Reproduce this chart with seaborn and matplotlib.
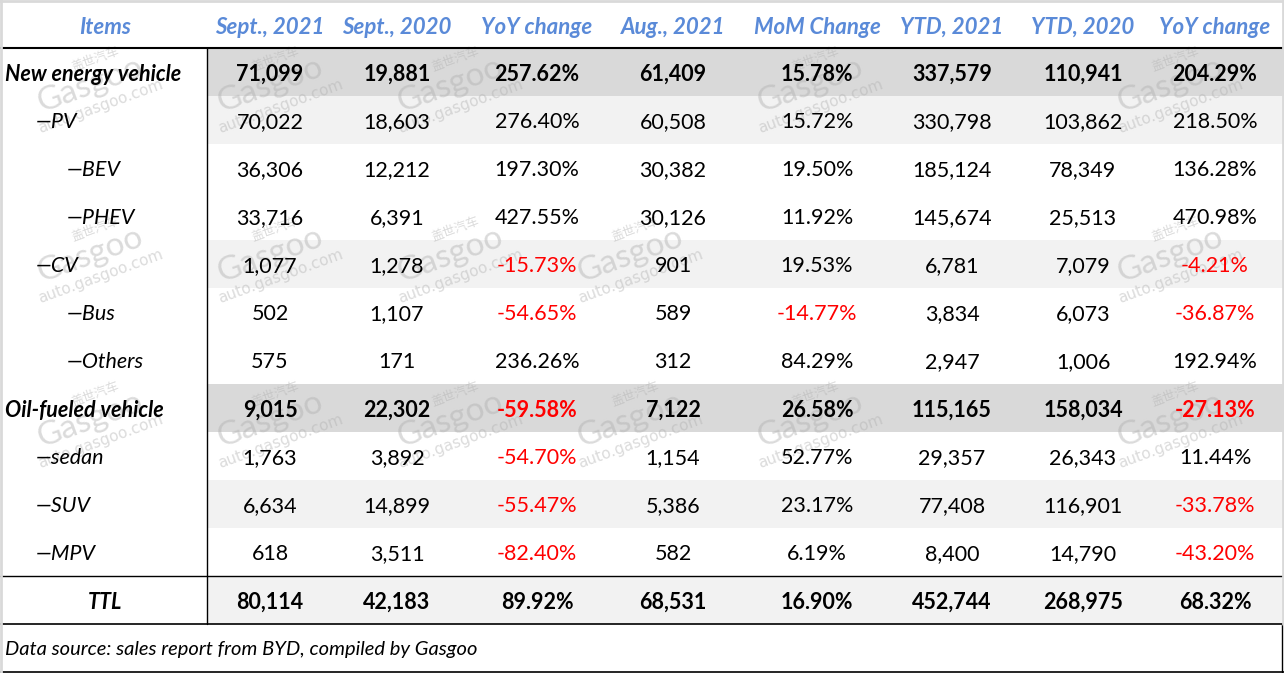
import numpy as np
import pandas as pd
import matplotlib
matplotlib.use("Agg")
import matplotlib.pyplot as plt
from matplotlib.colors import ListedColormap
import seaborn as sns

# ---- table data (BYD sales, Sept 2021) ----
columns = ["Sept., 2021", "Sept., 2020", "YoY change", "Aug., 2021",
           "MoM Change", "YTD, 2021", "YTD, 2020", "YoY change"]
items = ["New energy vehicle", "\u2014PV", "\u2014BEV", "\u2014PHEV", "\u2014CV",
         "\u2014Bus", "\u2014Others", "Oil-fueled vehicle", "\u2014sedan",
         "\u2014SUV", "\u2014MPV", "TTL"]
item_level = [0, 1, 2, 2, 1, 2, 2, 0, 1, 1, 1, -1]   # -1 = centered total
bold_rows = [True, False, False, False, False, False, False, True,
             False, False, False, True]
row_shade = [2, 1, 0, 0, 1, 0, 0, 2, 0, 1, 0, 1]

sept_2021 = [71099, 70022, 36306, 33716, 1077, 502, 575, 9015, 1763, 6634, 618, 80114]
sept_2020 = [19881, 18603, 12212, 6391, 1278, 1107, 171, 22302, 3892, 14899, 3511, 42183]
yoy_month = [257.62, 276.40, 197.30, 427.55, -15.73, -54.65, 236.26, -59.58,
             -54.70, -55.47, -82.40, 89.92]
aug_2021 = [61409, 60508, 30382, 30126, 901, 589, 312, 7122, 1154, 5386, 582, 68531]
mom_change = [15.78, 15.72, 19.50, 11.92, 19.53, -14.77, 84.29, 26.58,
              52.77, 23.17, 6.19, 16.90]
ytd_2021 = [337579, 330798, 185124, 145674, 6781, 3834, 2947, 115165,
            29357, 77408, 8400, 452744]
ytd_2020 = [110941, 103862, 78349, 25513, 7079, 6073, 1006, 158034,
            26343, 116901, 14790, 268975]
yoy_ytd = [204.29, 218.50, 136.28, 470.98, -4.21, -36.87, 192.94, -27.13,
           11.44, -33.78, -43.20, 68.32]

footnote = "Data source: sales report from BYD, compiled by Gasgoo"

series = [sept_2021, sept_2020, yoy_month, aug_2021, mom_change,
          ytd_2021, ytd_2020, yoy_ytd]
is_pct = [False, False, True, False, True, False, False, True]

sns.set_theme(style="white")
plt.rcParams["font.family"] = ["Lato", "DejaVu Sans"]

W, H = 1284, 673
fig = plt.figure(figsize=(W / 100, H / 100), dpi=100)

# layout (pixels)
head_h, row_h = 48, 48
split_x = 207
col_x = [270, 397, 537, 673, 817, 952, 1083, 1215]
header_blue = "#5a8ad8"
n_rows = len(items)
body_bottom = head_h + row_h * n_rows
dy = 2.5  # baseline nudge

# row shading via seaborn heatmap
shade_df = pd.DataFrame(np.repeat(np.array(row_shade)[:, None], len(columns), axis=1),
                        index=items)
ax_bg = fig.add_axes([split_x / W, 1 - body_bottom / H,
                      (W - 1 - split_x) / W, (row_h * n_rows) / H])
sns.heatmap(shade_df, cmap=ListedColormap(["#ffffff", "#f2f2f2", "#d9d9d9"]),
            vmin=-0.5, vmax=2.5, cbar=False, xticklabels=False,
            yticklabels=False, linewidths=0, ax=ax_bg)
ax_bg.axis("off")

# overlay for text and rules
ax = fig.add_axes([0, 0, 1, 1])
ax.set_xlim(0, W)
ax.set_ylim(H, 0)
ax.axis("off")
ax.patch.set_alpha(0)

fs = 15.5

# faint watermarks
wm_spots = [(90, 85), (270, 85), (450, 85), (810, 85), (1170, 85),
            (90, 255), (270, 255), (450, 255), (630, 255), (1170, 255),
            (90, 420), (270, 420), (450, 420), (630, 420), (810, 420), (1170, 420)]
th = np.deg2rad(20)
def rot(ox, oy):
    return ox * np.cos(th) + oy * np.sin(th), -ox * np.sin(th) + oy * np.cos(th)
wm_col = "#b0b0b0"
for wx, wy in wm_spots:
    for (ox, oy), s, f, fam in [((0, 0), "Gasgoo", 24, ["Lato"]),
                                ((2, 24), "auto.gasgoo.com", 11, ["DejaVu Sans"]),
                                ((14, -22), "\u76d6\u4e16\u6c7d\u8f66", 9, ["Noto Sans CJK SC"])]:
        rx, ry = rot(ox, oy)
        ax.text(wx + rx, wy + ry, s, ha="center", va="center", rotation=20,
                rotation_mode="anchor", fontsize=f, family=fam, color=wm_col,
                alpha=0.45, zorder=1)

# header
ax.text(105, head_h / 2 + 3, "Items", ha="center", va="center", color=header_blue,
        fontsize=fs + 0.5, fontweight="bold", style="italic", zorder=3)
for cx, name in zip(col_x, columns):
    ax.text(cx, head_h / 2 + 3, name, ha="center", va="center", color=header_blue,
            fontsize=fs + 0.5, fontweight="bold", style="italic", zorder=3)

# body
for i, label in enumerate(items):
    cy = head_h + row_h * i + row_h / 2 + dy
    weight = "bold" if bold_rows[i] else "normal"
    lvl = item_level[i]
    if lvl < 0:
        ax.text(105, cy, label, ha="center", va="center", fontsize=fs,
                fontweight="bold", style="italic", color="black", zorder=3)
    else:
        ax.text(5 + 31 * lvl, cy, label, ha="left", va="center", fontsize=fs,
                fontweight=weight, style="italic", color="black", zorder=3)
    for j, vals in enumerate(series):
        v = vals[i]
        if is_pct[j]:
            txt = f"{v:.2f}%"
            color = "#ff0000" if v < 0 else "black"
        else:
            txt = f"{v:,}"
            color = "black"
        ax.text(col_x[j], cy, txt, ha="center", va="center", fontsize=fs,
                fontweight=weight, color=color, zorder=3)

ax.text(5, body_bottom + 26, footnote, ha="left", va="center", fontsize=fs - 1,
        style="italic", color="black", zorder=3)

# rules
k = "black"
ax.plot([0, W], [head_h, head_h], color=k, lw=1.5)
ax.plot([0, W], [head_h + row_h * (n_rows - 1)] * 2, color=k, lw=1.0)
ax.plot([0, W], [body_bottom, body_bottom], color=k, lw=1.2)
ax.plot([0, W], [H - 1.5, H - 1.5], color=k, lw=1.2)
ax.plot([split_x, split_x], [head_h, body_bottom], color=k, lw=1.0)
ax.plot([W - 2, W - 2], [body_bottom, H - 1.5], color=k, lw=1.0)
# light outer frame
g = "#d9d9d9"
ax.plot([0, W], [1, 1], color=g, lw=2)
ax.plot([1, 1], [0, H], color=g, lw=2)
ax.plot([W - 1, W - 1], [0, body_bottom], color=g, lw=2)

fig.savefig("out.png", dpi=100)
